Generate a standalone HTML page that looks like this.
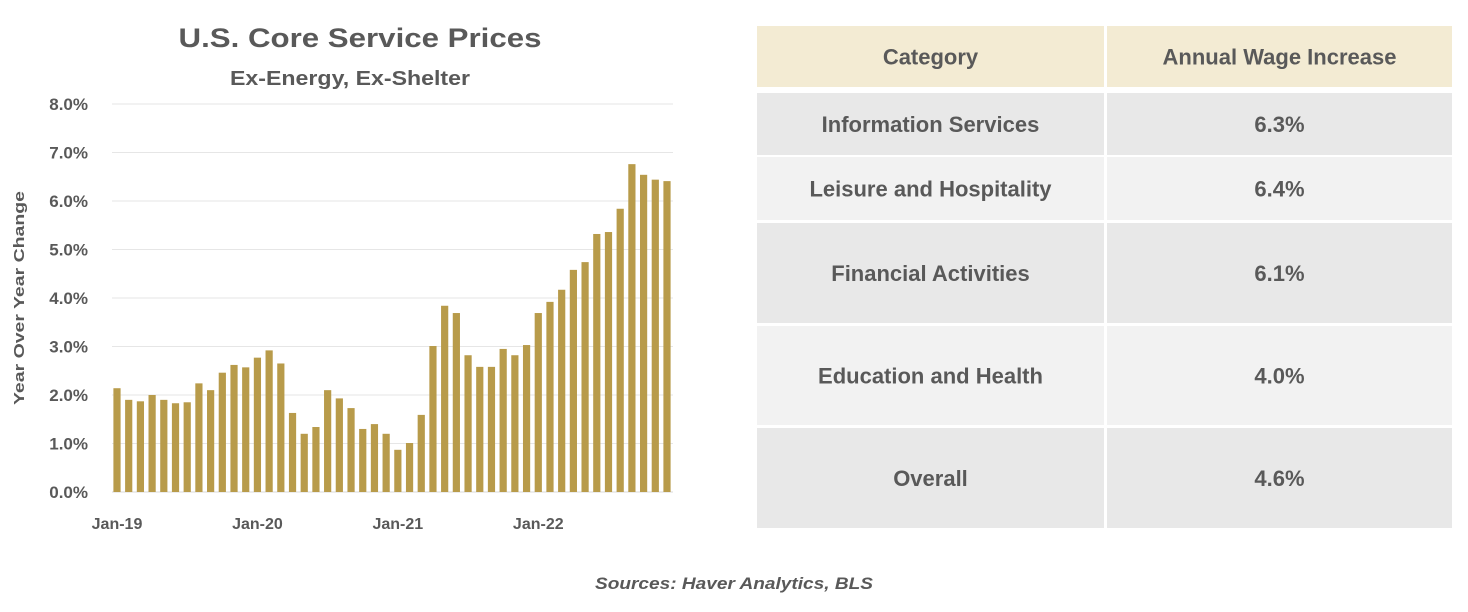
<!DOCTYPE html>
<html><head><meta charset="utf-8"><style>
html,body{margin:0;padding:0;background:#fff;}
svg{display:block;font-family:"Liberation Sans",sans-serif;}
</style></head><body>
<svg id="chart" width="1468" height="612" viewBox="0 0 1468 612">
<text x="360" y="47" text-anchor="middle" font-size="27" font-weight="bold" fill="#595959" textLength="363" lengthAdjust="spacingAndGlyphs">U.S. Core Service Prices</text>
<text x="350" y="85" text-anchor="middle" font-size="20" font-weight="bold" fill="#595959" textLength="240" lengthAdjust="spacingAndGlyphs">Ex-Energy, Ex-Shelter</text>
<text transform="translate(24,298) rotate(-90)" text-anchor="middle" font-size="15" font-weight="bold" fill="#595959" textLength="214" lengthAdjust="spacingAndGlyphs">Year Over Year Change</text>
<g id="grid"></g><g id="bars"></g><g id="xlabels"></g>
<g id="table"></g>
<text x="734" y="589" text-anchor="middle" font-size="17" font-weight="bold" font-style="italic" fill="#595959" textLength="278" lengthAdjust="spacingAndGlyphs">Sources: Haver Analytics, BLS</text>
</svg>
<script>
const values=[2.14,1.9,1.87,2.0,1.9,1.83,1.85,2.24,2.1,2.46,2.62,2.57,2.77,2.92,2.65,1.63,1.2,1.34,2.1,1.93,1.73,1.3,1.4,1.2,0.87,1.01,1.59,3.01,3.84,3.69,2.82,2.58,2.58,2.95,2.82,3.03,3.69,3.92,4.17,4.58,4.74,5.32,5.36,5.84,6.76,6.54,6.44,6.41];
const yTicks=[0,1,2,3,4,5,6,7,8];
const xLabels=["Jan-19","Jan-20","Jan-21","Jan-22"];
const xLabelIdx=[0,12,24,36];
const categories=["Information Services","Leisure and Hospitality","Financial Activities","Education and Health","Overall"];
const wages=["6.3%","6.4%","6.1%","4.0%","4.6%"];
const NS="http://www.w3.org/2000/svg";
const svg=document.getElementById('chart');
function mk(t,a,p,txt){const e=document.createElementNS(NS,t);for(const k in a)e.setAttribute(k,a[k]);if(txt!==undefined)e.textContent=txt;p.appendChild(e);return e;}
const y0=492,pxPer=48.5,xStart=117,step=(667-117)/47;
const yS=v=>y0-v*pxPer, xS=i=>xStart+i*step;
const grid=document.getElementById('grid');
yTicks.forEach(t=>{
  const l=mk('line',{x1:112,x2:673,y1:yS(t),y2:yS(t),stroke:t===0?'#d9d9d9':'#e6e6e6','stroke-width':1},grid);
  
  
  const tx=mk('text',{x:88,y:yS(t)+6,'text-anchor':'end','font-size':17,'font-weight':'bold',fill:'#595959'},grid,t.toFixed(1)+'%');
  
  
});
const bars=document.getElementById('bars');
values.forEach((v,i)=>{
  const r=mk('rect',{x:xS(i)-3.6,y:yS(v),width:7.2,height:v*pxPer,fill:'#b89b4a'},bars);
  
  
});
const xl=document.getElementById('xlabels');
xLabels.forEach((s,k)=>{
  const t=mk('text',{x:xS(xLabelIdx[k]),y:529,'text-anchor':'middle','font-size':16,'font-weight':'bold',fill:'#595959'},xl,s);
  
  
});
const tb=document.getElementById('table');
const rows=[[26,87,'#f3ebd3'],[93,155,'#e8e8e8'],[157,220,'#f2f2f2'],[223,323,'#e8e8e8'],[326,425,'#f2f2f2'],[428,528,'#e8e8e8']];
const c1=[757,1104],c2=[1107,1452];
rows.forEach((r,i)=>{
  [c1,c2].forEach((c,j)=>{
    const rc=mk('rect',{x:c[0],y:r[0],width:c[1]-c[0],height:r[1]-r[0],fill:r[2]},tb);
    
    
  });
  const cy=(r[0]+r[1])/2+8;
  const a=i===0?'Category':categories[i-1];
  const b=i===0?'Annual Wage Increase':wages[i-1];
  const t1=mk('text',{x:(c1[0]+c1[1])/2,y:cy,'text-anchor':'middle','font-size':22,'font-weight':'bold',fill:'#595959'},tb,a);
  
  
  const t2=mk('text',{x:(c2[0]+c2[1])/2,y:cy,'text-anchor':'middle','font-size':22,'font-weight':'bold',fill:'#595959'},tb,b);
  
  
});
</script>
</body></html>
